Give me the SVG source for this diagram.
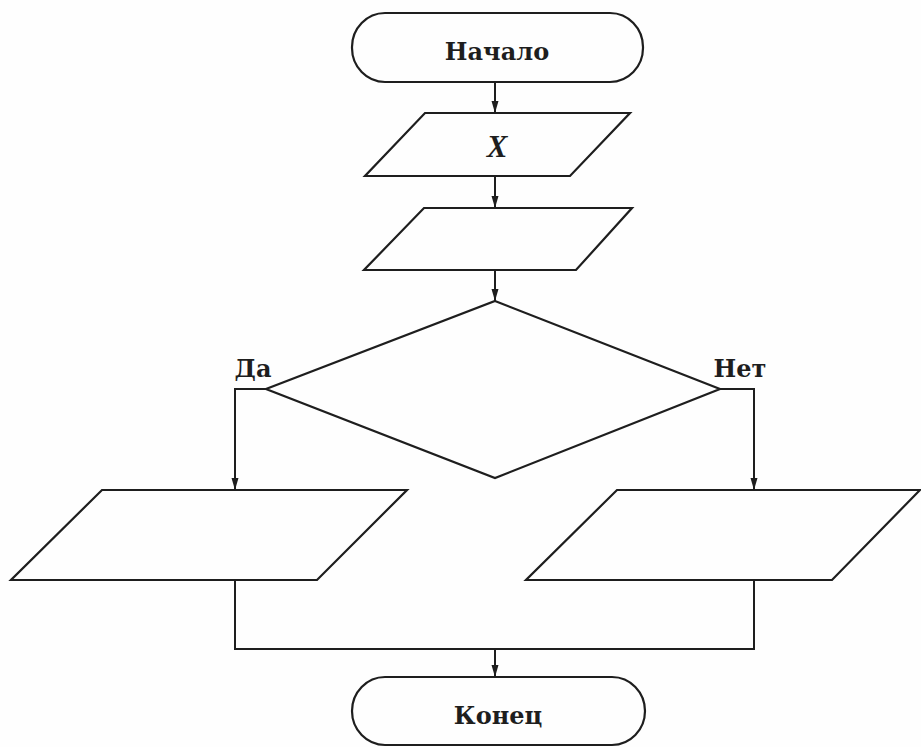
<svg xmlns="http://www.w3.org/2000/svg" width="921" height="747" viewBox="0 0 921 747">
<defs>
<style>
.shape{fill:none;stroke:#1e1e1e;stroke-width:2.2}
.conn{fill:none;stroke:#1e1e1e;stroke-width:2}
.lbl{font-family:"DejaVu Serif","Liberation Serif",serif;font-weight:bold;font-size:24px;fill:#1e1e1e;text-anchor:middle}
.var{font-family:"Liberation Serif",serif;font-style:italic;font-weight:bold;font-size:31px;fill:#1e1e1e;text-anchor:middle}
</style>
<marker id="arr" viewBox="0 0 12 8" refX="12" refY="4" markerWidth="12" markerHeight="8" markerUnits="userSpaceOnUse" orient="auto">
<path d="M0,0.5 L12,4 L0,7.5 Z" fill="#1e1e1e"/>
</marker>
</defs>
<rect width="921" height="747" fill="#fefefe"/>
<g id="start">
<rect class="shape" x="352" y="13" width="291" height="69" rx="33" ry="34"/>
<text class="lbl" x="497" y="60">Начало</text>
</g>
<g id="input-x">
<polygon class="shape" points="425,113 630,113 570,176 365,176"/>
<text class="var" x="497" y="157">X</text>
</g>
<g id="io-2">
<polygon class="shape" points="424,208 632,208 576,270 364,270"/>
</g>
<g id="decision">
<polygon class="shape" points="495,301 720,389 495,478 266,389"/>
<text class="lbl" x="253" y="377">Да</text>
<text class="lbl" x="740" y="377">Нет</text>
</g>
<g id="out-yes">
<polygon class="shape" points="102,490 407,490 317,580 11,580"/>
</g>
<g id="out-no">
<polygon class="shape" points="617,490 920,490 832,580 526,580"/>
</g>
<g id="end">
<rect class="shape" x="352" y="677" width="293" height="68" rx="33" ry="34"/>
<text class="lbl" x="498" y="724">Конец</text>
</g>
<g id="connectors">
<line class="conn" x1="495" y1="82" x2="495" y2="113" marker-end="url(#arr)"/>
<line class="conn" x1="495" y1="176" x2="495" y2="208" marker-end="url(#arr)"/>
<line class="conn" x1="495" y1="270" x2="495" y2="301" marker-end="url(#arr)"/>
<polyline class="conn" points="266,389 235,389 235,490" marker-end="url(#arr)"/>
<polyline class="conn" points="720,389 754,389 754,490" marker-end="url(#arr)"/>
<polyline class="conn" points="235,580 235,649 754,649 754,580"/>
<line class="conn" x1="495" y1="649" x2="495" y2="677" marker-end="url(#arr)"/>
</g>
</svg>
